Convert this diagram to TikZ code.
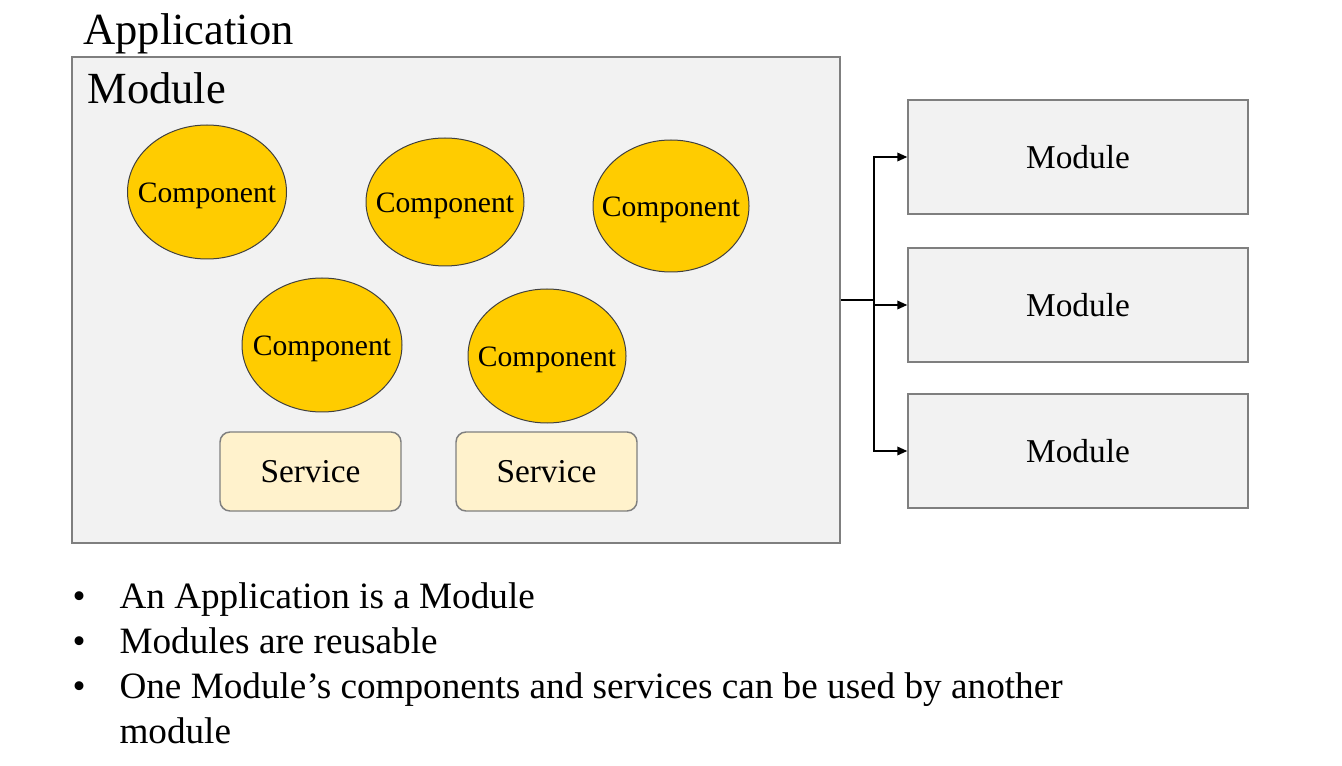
\documentclass[tikz,border=0pt]{standalone}
\usepackage{fontspec}
\setmainfont{Liberation Serif}
\usetikzlibrary{shapes.geometric,arrows.meta,positioning}
\definecolor{boxgray}{HTML}{F2F2F2}
\definecolor{edgegray}{HTML}{7F7F7F}
\definecolor{compyellow}{HTML}{FFCC00}
\definecolor{servcream}{HTML}{FFF2CC}
\tikzset{every picture/.style={line width=0.75pt}}

\begin{document}
\begin{tikzpicture}[x=0.75pt,y=0.75pt,yscale=-1,xscale=1,
  modbox/.style={draw=edgegray,fill=boxgray,line width=1.1pt,rectangle,inner sep=0pt},
  comp/.style={ellipse,draw=black!75,fill=compyellow,line width=0.75pt,inner sep=0pt,
    label={[font=\fontsize{22.2}{26}\selectfont,inner sep=0pt,yshift=-3pt]center:Component}},
  servbox/.style={draw=edgegray,fill=servcream,line width=1.1pt,rounded corners=7.5pt,inner sep=0pt,
    minimum width=135.75pt,minimum height=59.25pt,font=\fontsize{25}{30}\selectfont},
  sidemod/.style={modbox,minimum width=255pt,minimum height=85.5pt,font=\fontsize{25}{30}\selectfont},
  bullettext/.style={anchor=base west,inner sep=0pt,font=\fontsize{27.9}{33.75}\selectfont,align=left},
  link/.style={line width=1.1pt,-{Triangle[length=7.5pt,width=6.5pt]}}]
\useasboundingbox (0,0) rectangle (1342,766);

% application
\node (applbl) [anchor=base west,inner sep=0pt,font=\fontsize{33.4}{40}\selectfont] at (83,45) {Application};

% main module
\node (main) [modbox,minimum width=576pt,minimum height=364.5pt] at (456,300) {};
\node (mainlbl) [anchor=base west,inner sep=0pt,font=\fontsize{33.4}{40}\selectfont] at (87,104) {Module};

% components
\node (compa) [comp,minimum width=119.25pt,minimum height=100.5pt] at (207,192) {};
\node (compb) [comp,minimum width=118.5pt,minimum height=96pt] at (445,202) {};
\node (compc) [comp,minimum width=117pt,minimum height=99pt] at (671,206) {};
\node (compd) [comp,minimum width=120pt,minimum height=100.5pt] at (322,345) {};
\node (compe) [comp,minimum width=118.5pt,minimum height=100.5pt] at (547,356) {};

% services
\node (serva) [servbox] at (310.5,471.5) {Service};
\node (servb) [servbox] at (546.5,471.5) {Service};

% other modules
\node (moda) [sidemod] at (1078,157) {Module};
\node (modb) [sidemod] at (1078,305) {Module};
\node (modc) [sidemod] at (1078,451) {Module};

% connectors
\coordinate (split) at (874,300);
\draw [line width=1.1pt] (main.east) -- (split);
\draw [link] (split) |- (moda.west);
\draw [link] (split) |- (modb.west);
\draw [link] (split) |- (modc.west);

% bullets
\node (dota) [bullettext] at (72,608) {\textbullet};
\node (dotb) [bullettext] at (72,653) {\textbullet};
\node (dotc) [bullettext] at (72,698) {\textbullet};
\node (itema) [bullettext] at (119,608) {An Application is a Module};
\node (itemb) [bullettext] at (119,653) {Modules are reusable};
\node (itemc) [anchor=north west,inner sep=0pt,font=\fontsize{27.9}{33.75}\selectfont,align=left] at (119,672) {One Module’s components and services can be used by another\\module};

\end{tikzpicture}
\end{document}
